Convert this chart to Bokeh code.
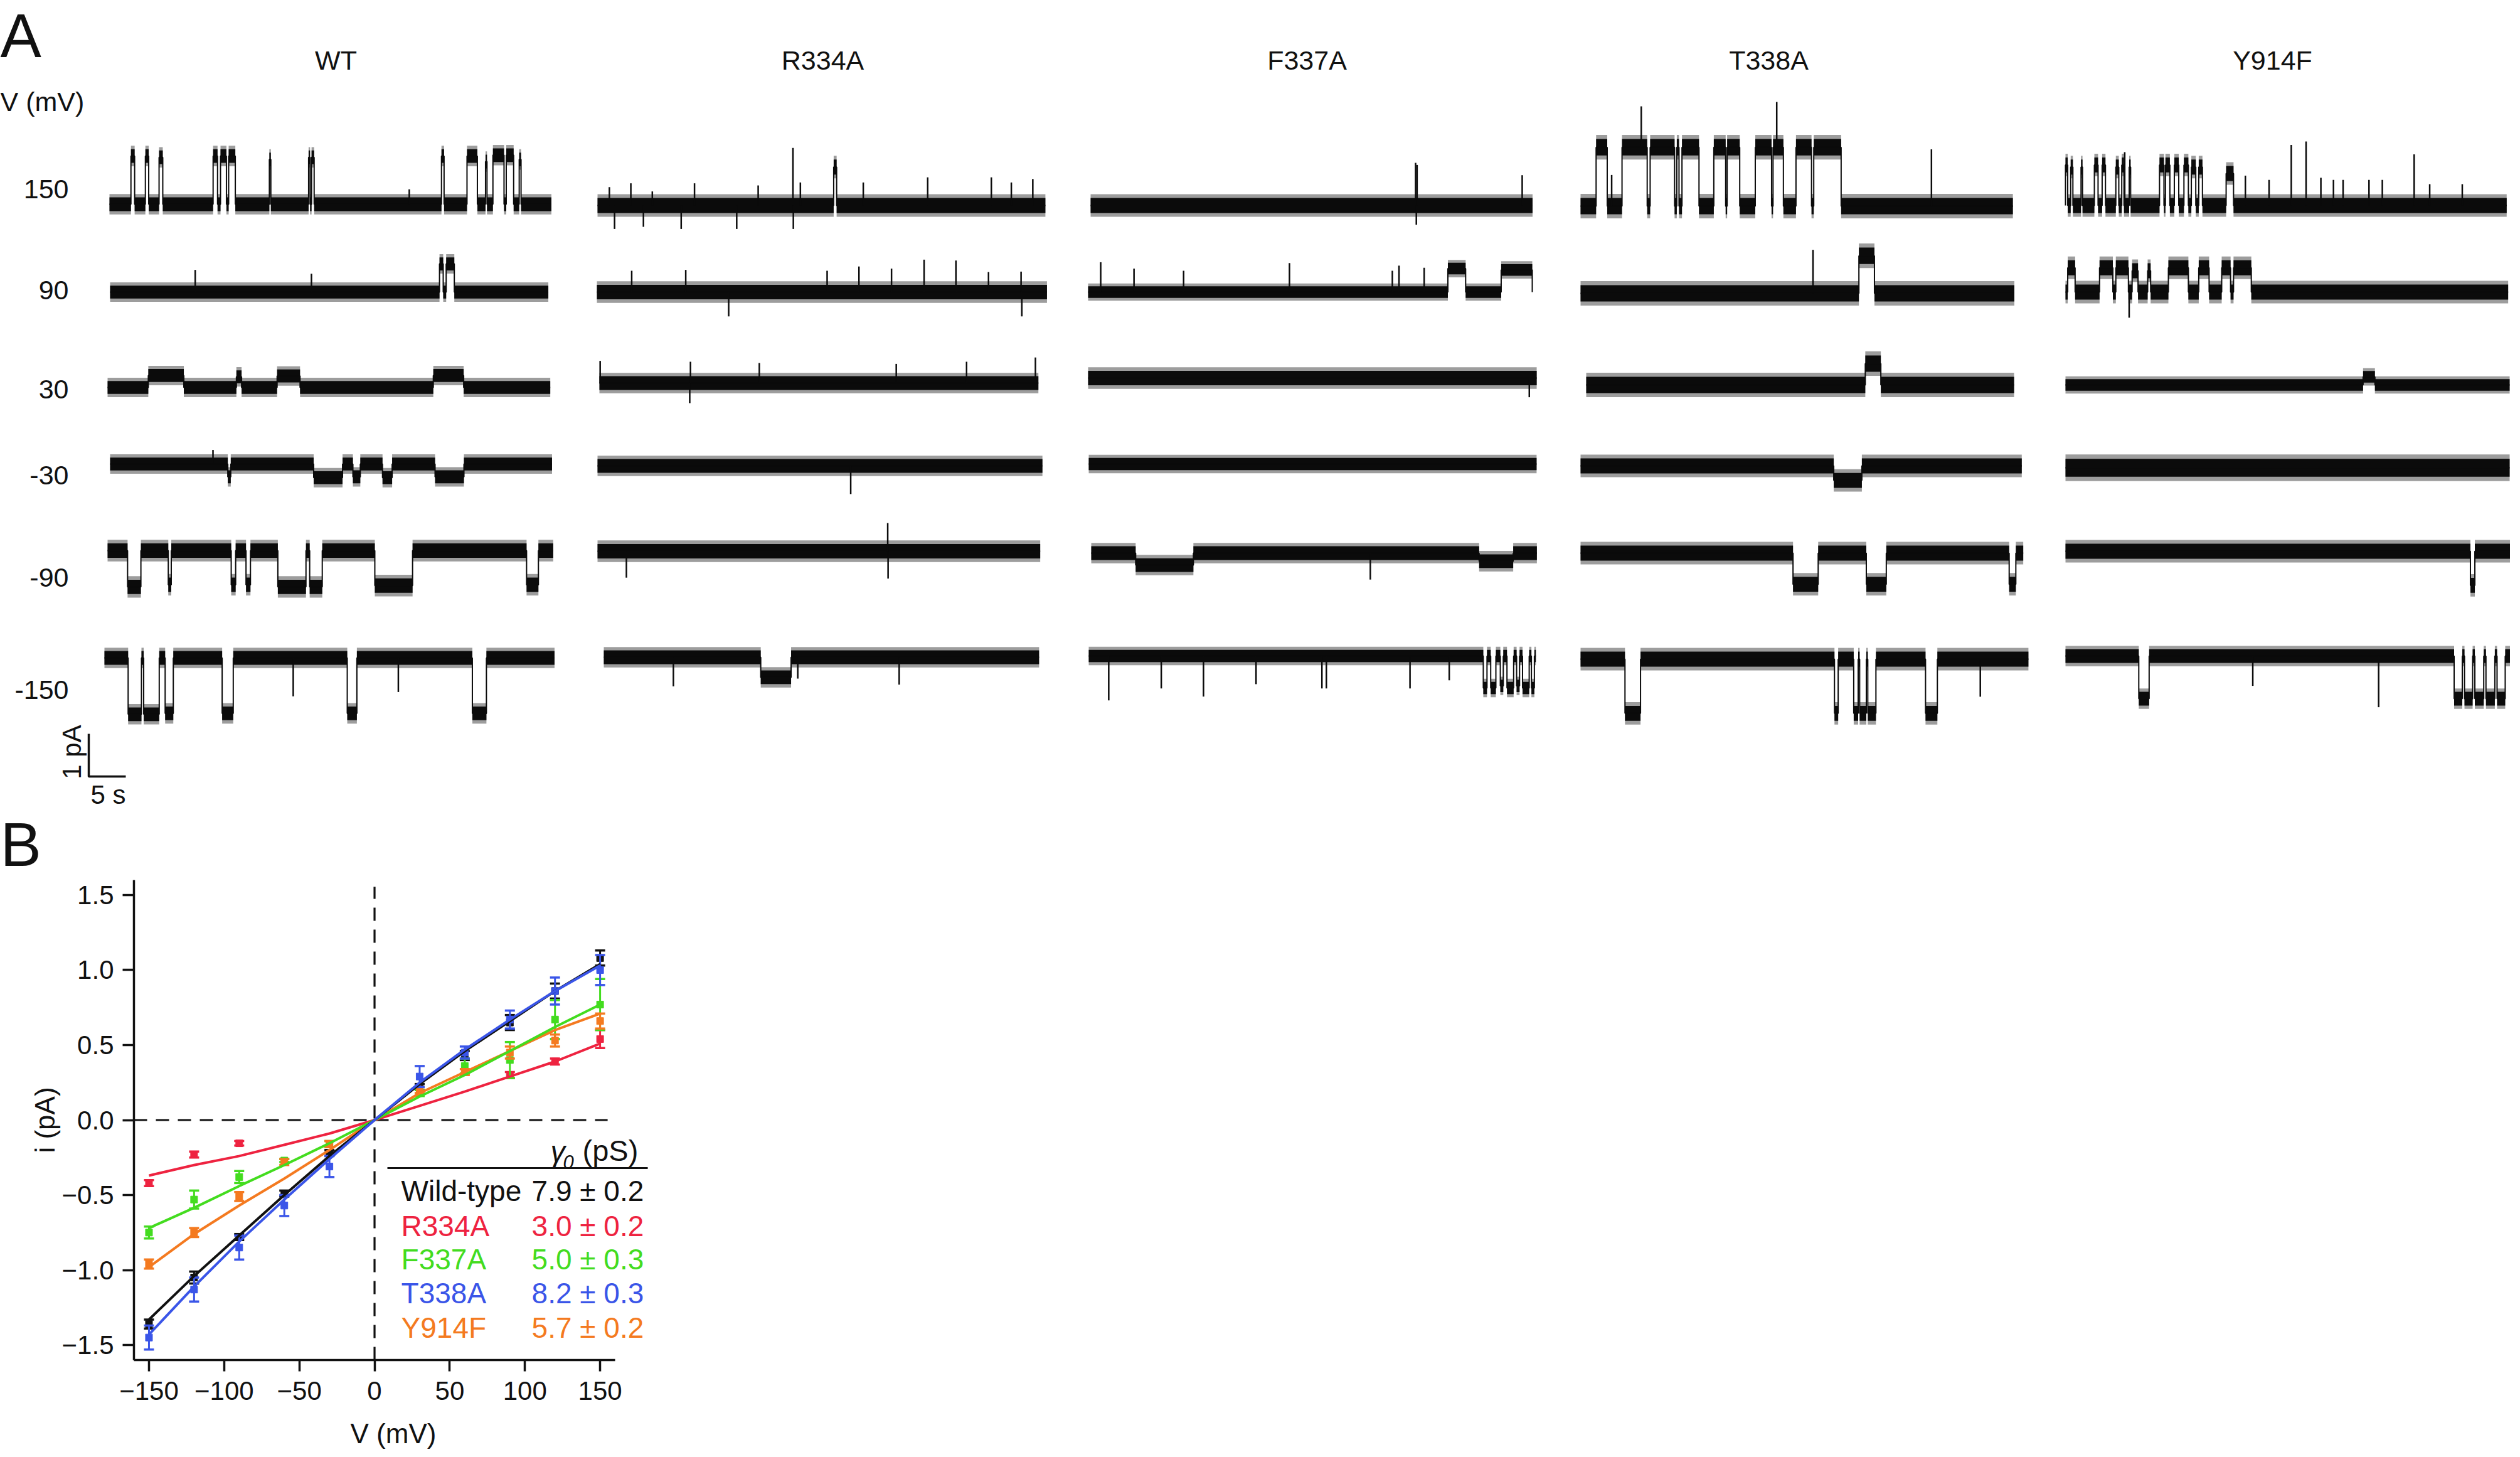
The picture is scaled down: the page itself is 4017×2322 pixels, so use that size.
import math
from bokeh.plotting import figure
from bokeh.models import Range1d, FixedTicker, CustomJSTickFormatter
from bokeh.embed import file_html
from bokeh.resources import INLINE
from bokeh.core.properties import value

FONT = "Liberation Sans"

# ======================= Panel A data =======================
constructs = ["WT", "R334A", "F337A", "T338A", "Y914F"]
voltage_labels = ["150", "90", "30", "-30", "-90", "-150"]

# trace durations (s); rows: 150, 90, 30, -30, -90, -150 mV
wt_duration = [59.7, 59.2, 59.8, 59.7, 60.2, 60.8]
r334a_duration = [60.5, 60.8, 59.3, 60.1, 59.8, 58.8]
f337a_duration = [59.7, 60.0, 60.6, 60.5, 60.2, 60.4]
t338a_duration = [58.4, 58.6, 57.8, 59.6, 59.8, 60.5]
y914f_duration = [59.6, 59.8, 60.0, 60.0, 60.3, 60.8]

# baseline noise half-width (pA)
wt_noise = [0.20, 0.19, 0.19, 0.19, 0.21, 0.20]
r334a_noise = [0.22, 0.21, 0.20, 0.20, 0.21, 0.20]
f337a_noise = [0.22, 0.17, 0.21, 0.18, 0.20, 0.18]
t338a_noise = [0.24, 0.24, 0.24, 0.22, 0.22, 0.22]
y914f_noise = [0.22, 0.22, 0.17, 0.26, 0.22, 0.20]

# channel openings: (start s, end s, current pA)
wt_events = [
    [(2.9, 3.4, 1.13), (4.85, 5.3, 1.13), (6.7, 7.2, 1.10), (14.0, 14.6, 1.13), (15.0, 15.8, 1.13),
     (16.1, 17.0, 1.13), (21.6, 21.8, 1.05), (26.9, 27.1, 1.10), (27.3, 27.65, 1.10), (44.85, 45.2, 1.13),
     (48.3, 49.7, 1.13), (50.8, 51.0, 1.00), (51.8, 53.3, 1.15), (53.6, 54.6, 1.15), (55.35, 55.6, 1.05)],
    [(44.5, 45.0, 0.66), (45.4, 46.5, 0.66)],
    [(5.5, 10.3, 0.28), (17.4, 18.1, 0.25), (22.9, 26.0, 0.27), (44.0, 48.1, 0.28)],
    [(15.9, 16.3, -0.30), (27.5, 31.4, -0.32), (32.8, 33.8, -0.30), (36.8, 38.1, -0.32), (43.9, 47.8, -0.30)],
    [(2.7, 4.5, -0.85), (8.2, 8.6, -0.80), (16.7, 17.3, -0.80), (18.7, 19.3, -0.80), (23.0, 26.8, -0.85),
     (27.3, 29.0, -0.85), (36.1, 41.2, -0.82), (56.6, 58.2, -0.80)],
    [(3.2, 5.0, -1.32), (5.3, 7.4, -1.32), (8.2, 9.3, -1.30), (15.9, 17.4, -1.30), (32.8, 34.1, -1.30),
     (49.7, 51.6, -1.30)],
]
r334a_events = [
    [(31.9, 32.3, 0.90)],
    [],
    [],
    [],
    [],
    [(21.2, 25.3, -0.47)],
]
f337a_events = [
    [],
    [(48.6, 51.0, 0.55), (55.8, 60.0, 0.52)],
    [],
    [],
    [(6.0, 13.8, -0.28), (52.4, 57.0, -0.19)],
    [(53.3, 53.8, -0.75), (54.3, 55.0, -0.75), (55.6, 56.0, -0.70), (56.5, 57.4, -0.75), (57.8, 58.2, -0.70),
     (58.6, 59.5, -0.75), (59.8, 60.2, -0.75)],
]
t338a_events = [
    [(2.1, 3.6, 1.38), (5.6, 9.0, 1.38), (9.4, 12.7, 1.38), (13.0, 13.3, 1.38), (13.7, 16.0, 1.38),
     (18.0, 19.6, 1.38), (19.8, 21.5, 1.38), (23.6, 25.8, 1.38), (26.0, 27.4, 1.38), (29.1, 31.2, 1.38),
     (31.5, 35.2, 1.38)],
    [(37.6, 39.7, 0.88)],
    [(37.7, 39.8, 0.50)],
    [(34.2, 38.0, -0.34)],
    [(28.7, 32.1, -0.73), (38.6, 41.3, -0.73), (57.9, 58.8, -0.73)],
    [(6.0, 8.1, -1.27), (34.3, 34.8, -1.27), (36.9, 37.5, -1.27), (37.7, 38.6, -1.27), (38.8, 39.9, -1.27),
     (46.6, 48.2, -1.27)],
]
y914f_events = [
    [(0.0, 0.3, 0.95), (0.7, 1.0, 0.90), (2.1, 2.3, 0.90), (3.9, 4.4, 0.95), (4.95, 5.4, 0.95), (6.8, 7.2, 0.90),
     (7.6, 7.9, 0.95), (8.6, 8.8, 0.90), (12.7, 13.3, 0.95), (13.5, 14.1, 0.95), (14.7, 15.3, 0.95),
     (16.0, 16.6, 0.95), (17.0, 17.6, 0.90), (18.0, 18.5, 0.90), (21.7, 22.7, 0.75)],
    [(0.3, 1.3, 0.57), (4.6, 6.4, 0.57), (6.8, 8.5, 0.57), (9.0, 9.8, 0.50), (11.1, 11.5, 0.50),
     (13.9, 16.6, 0.57), (18.0, 19.4, 0.57), (21.1, 22.3, 0.57), (22.7, 25.1, 0.57)],
    [(40.2, 41.8, 0.19)],
    [],
    [(54.7, 55.3, -0.80)],
    [(9.9, 11.3, -1.0), (52.5, 53.6, -1.0), (53.9, 55.0, -1.0), (55.3, 56.5, -1.0), (56.8, 58.0, -1.0),
     (58.3, 59.4, -1.0)],
]

# brief spikes: (time s, peak current pA)
wt_spikes = [
    [(40.5, 0.35)],
    [(11.5, 0.52), (27.2, 0.43)],
    [],
    [(13.9, 0.33)],
    [],
    [(25.5, -0.90), (39.7, -0.80)],
]
r334a_spikes = [
    [(26.4, 1.35), (26.45, -0.55), (13.1, 0.52), (44.6, 0.66), (53.2, 0.66), (55.9, 0.54), (58.8, 0.62),
     (35.9, 0.54), (1.6, 0.43), (4.5, 0.52), (7.4, 0.33), (21.7, 0.47), (27.4, 0.54), (2.3, -0.55),
     (6.2, -0.50), (11.3, -0.55), (18.8, -0.55)],
    [(12.0, 0.52), (44.2, 0.76), (48.5, 0.74), (35.4, 0.60), (39.8, 0.55), (31.1, 0.50), (52.9, 0.47),
     (57.3, 0.48), (4.7, 0.50), (17.8, -0.57), (57.4, -0.57)],
    [(0.1, 0.52), (12.3, 0.50), (21.6, 0.47), (40.1, 0.45), (49.6, 0.50), (58.9, 0.60), (12.2, -0.47)],
    [(34.2, -0.66)],
    [(39.2, 0.66), (3.9, -0.62), (39.25, -0.64)],
    [(9.4, -0.68), (39.9, -0.64), (26.2, -0.50)],
]
f337a_spikes = [
    [(43.9, 1.00), (44.1, 0.95), (58.3, 0.71), (44.0, -0.45)],
    [(1.7, 0.70), (6.2, 0.55), (12.9, 0.50), (27.2, 0.68), (41.1, 0.50), (42.0, 0.62), (45.4, 0.57)],
    [(59.6, -0.45)],
    [],
    [(37.7, -0.62)],
    [(2.7, -1.04), (9.8, -0.76), (15.5, -0.95), (22.6, -0.66), (31.5, -0.76), (32.1, -0.76), (43.4, -0.76),
     (48.7, -0.57)],
]
t338a_spikes = [
    [(8.2, 2.34), (26.5, 2.44), (47.4, 1.33), (4.2, 0.73)],
    [(31.4, 1.02)],
    [],
    [],
    [],
    [(54.0, -0.88)],
]
y914f_spikes = [
    [(8.0, 1.25), (30.5, 1.42), (32.5, 1.50), (47.1, 1.20), (24.3, 0.70), (27.5, 0.60), (34.5, 0.65),
     (36.2, 0.60), (37.5, 0.60), (41.0, 0.60), (42.8, 0.60), (49.2, 0.50), (53.6, 0.50)],
    [(8.6, -0.60)],
    [],
    [],
    [],
    [(25.3, -0.70), (42.3, -1.20)],
]

# ======================= Panel B data =======================
iv_voltage = [-150, -120, -90, -60, -30, 30, 60, 90, 120, 150]
NaN = float("nan")
wt_i = [-1.36, -1.05, -0.78, -0.49, -0.22, 0.22, 0.43, 0.65, 0.86, 1.08]
wt_err = [0.03, 0.04, 0.02, 0.02, 0.02, 0.02, 0.03, 0.05, 0.05, 0.05]
r334a_i = [-0.42, -0.23, -0.155, NaN, NaN, NaN, NaN, 0.30, 0.39, 0.54]
r334a_err = [0.02, 0.02, 0.015, NaN, NaN, NaN, NaN, 0.02, 0.02, 0.06]
f337a_i = [-0.75, -0.53, -0.38, -0.27, -0.16, 0.18, 0.36, 0.40, 0.67, 0.77]
f337a_err = [0.04, 0.06, 0.04, 0.01, 0.02, 0.02, 0.05, 0.12, 0.13, 0.17]
t338a_i = [-1.45, -1.13, -0.85, -0.57, -0.31, 0.29, 0.45, 0.67, 0.86, 1.00]
t338a_err = [0.08, 0.08, 0.08, 0.07, 0.07, 0.07, 0.04, 0.06, 0.09, 0.10]
y914f_i = [-0.96, -0.75, -0.51, -0.28, -0.16, 0.20, 0.32, 0.45, 0.53, 0.66]
y914f_err = [0.03, 0.03, 0.03, 0.02, 0.02, 0.02, 0.02, 0.04, 0.04, 0.05]

fit_voltage = [-150, -120, -90, -60, -30, 0, 30, 60, 90, 120, 150]
wt_fit = [-1.33, -1.04, -0.77, -0.50, -0.24, 0.0, 0.24, 0.46, 0.66, 0.86, 1.04]
r334a_fit = [-0.37, -0.30, -0.24, -0.165, -0.09, 0.0, 0.095, 0.19, 0.29, 0.39, 0.51]
f337a_fit = [-0.72, -0.585, -0.44, -0.30, -0.155, 0.0, 0.157, 0.30, 0.46, 0.62, 0.77]
t338a_fit = [-1.43, -1.11, -0.81, -0.53, -0.26, 0.0, 0.25, 0.47, 0.67, 0.86, 1.03]
y914f_fit = [-0.98, -0.76, -0.57, -0.39, -0.20, 0.0, 0.18, 0.32, 0.46, 0.60, 0.71]

legend_names = ["Wild-type", "R334A", "F337A", "T338A", "Y914F"]
legend_values = ["7.9 \u00b1 0.2", "3.0 \u00b1 0.2", "5.0 \u00b1 0.3", "8.2 \u00b1 0.3", "5.7 \u00b1 0.2"]

# ======================= Layout / style =======================
TRACE = "#0b0b0b"
INK = "#111111"
COLORS = {"wt": "#111111", "r334a": "#EE2340", "f337a": "#43DC1F", "t338a": "#3A55E8", "y914f": "#F47A20"}

trace_left_px = [[182, 183, 179, 183, 179, 174],
                 [960, 959, 963, 960, 960, 970],
                 [1746, 1742, 1742, 1743, 1747, 1743],
                 [2527, 2527, 2536, 2527, 2527, 2527],
                 [3300, 3300, 3300, 3300, 3300, 3300]]
trace_base_px = [[333, 473, 625, 747, 885, 1056],
                 [335, 473, 618, 750, 886, 1055],
                 [335, 473, 610, 747, 889, 1053],
                 [336, 475, 621, 750, 889, 1058],
                 [335, 473, 621, 753, 886, 1053]]
title_x_px = [543, 1319, 2091, 2827, 3630]
row_label_y_px = [309, 470, 628, 765, 928, 1107]

PX_PER_S = 11.8
PX_PER_PA = 68.0
WA, HA = 4001, 1402


def ax(px):
    return (px - 8) / PX_PER_S


def ay(py):
    return -(py - 8) / PX_PER_PA


pa = figure(width=WA, height=HA, x_range=Range1d(0, WA / PX_PER_S), y_range=Range1d(-HA / PX_PER_PA, 0),
            min_border=0, x_axis_location=None, y_axis_location=None,
            output_backend="svg", toolbar_location=None)
pa.grid.visible = False
pa.outline_line_color = None

all_durations = [wt_duration, r334a_duration, f337a_duration, t338a_duration, y914f_duration]
all_noise = [wt_noise, r334a_noise, f337a_noise, t338a_noise, y914f_noise]
all_events = [wt_events, r334a_events, f337a_events, t338a_events, y914f_events]
all_spikes = [wt_spikes, r334a_spikes, f337a_spikes, t338a_spikes, y914f_spikes]


def step_trace(events, dur):
    xs, ys = [0.0], [0.0]
    for t0, t1, a in sorted(events):
        xs += [t0, t0, t1, t1]
        ys += [0.0, a, a, 0.0]
    xs.append(dur)
    ys.append(0.0)
    return xs, ys


def level_at(events, t):
    for t0, t1, a in events:
        if t0 <= t <= t1:
            return a
    return 0.0


for ci in range(len(constructs)):
    for ri in range(len(voltage_labels)):
        x0 = ax(trace_left_px[ci][ri])
        yb = ay(trace_base_px[ci][ri])
        ev = all_events[ci][ri]
        xs, ys = step_trace(ev, all_durations[ci][ri])
        X = [x0 + v for v in xs]
        Y = [yb + v for v in ys]
        n = all_noise[ci][ri]
        # fuzzy outer edge of the noise band, then the dense core
        pa.varea(x=X, y1=[v - 1.2 * n for v in Y], y2=[v + 1.2 * n for v in Y], fill_color=TRACE, fill_alpha=0.4)
        pa.varea(x=X, y1=[v - 0.8 * n for v in Y], y2=[v + 0.8 * n for v in Y], fill_color=TRACE)
        pa.line(X, Y, line_width=2, line_color=TRACE)
        sp = all_spikes[ci][ri]
        if sp:
            pa.segment(x0=[x0 + t for t, a in sp], y0=[yb + level_at(ev, t) for t, a in sp],
                       x1=[x0 + t for t, a in sp], y1=[yb + a for t, a in sp],
                       line_width=2.5, line_color=TRACE)

# texts of panel A
pa.text(x=[ax(8)], y=[ay(64)], text=["A"], text_font=value(FONT), text_font_size="98px",
        text_align="left", text_baseline="middle", text_color=INK)
pa.text(x=[ax(px) for px in title_x_px], y=[ay(103)] * 5, text=constructs, text_font=value(FONT),
        text_font_size="43px", text_align="center", text_baseline="middle", text_color=INK)
pa.text(x=[ax(8)], y=[ay(169)], text=["V (mV)"], text_font=value(FONT), text_font_size="43px",
        text_align="left", text_baseline="middle", text_color=INK)
pa.text(x=[ax(117)] * 6, y=[ay(py) for py in row_label_y_px], text=voltage_labels, text_font=value(FONT),
        text_font_size="43px", text_align="right", text_baseline="middle", text_color=INK)

# scale bar: 1 pA, 5 s
sb_x, sb_y = ax(149), ay(1245)
pa.line([sb_x, sb_x, sb_x + 5.0], [sb_y + 1.0, sb_y, sb_y], line_width=3.5, line_color=INK)
pa.text(x=[ax(122)], y=[ay(1206)], text=["1 pA"], angle=math.pi / 2, text_font=value(FONT),
        text_font_size="42px", text_align="center", text_baseline="middle", text_color=INK)
pa.text(x=[ax(180)], y=[ay(1274)], text=["5 s"], text_font=value(FONT), text_font_size="42px",
        text_align="center", text_baseline="middle", text_color=INK)

# panel label B (sits just above panel B's frame, kept inside this canvas)
pa.text(x=[ax(8)], y=[ay(1408)], text=["B"], text_font=value(FONT), text_font_size="98px",
        text_align="left", text_baseline="bottom", text_color=INK)

# ======================= Panel B =======================
PX_PER_MV = 2.397
PX_PER_PA_B = 239.06
X0_PX, Y0_PX = 604.5, 1785.5


def bx(px):
    return (px - X0_PX) / PX_PER_MV


def by(py):
    return (Y0_PX - py) / PX_PER_PA_B


pb = figure(frame_width=827, frame_height=765, x_range=Range1d(-160, 185), y_range=Range1d(-1.6, 1.6),
            min_border_left=213, min_border_right=0, min_border_top=0, min_border_bottom=132,
            output_backend="svg", toolbar_location=None)
pb.grid.visible = False
pb.outline_line_color = None
pb.xaxis.bounds = (-160, 160)
pb.yaxis.bounds = (-1.6, 1.6)
pb.xaxis.ticker = FixedTicker(ticks=[-150, -100, -50, 0, 50, 100, 150])
pb.yaxis.ticker = FixedTicker(ticks=[-1.5, -1.0, -0.5, 0.0, 0.5, 1.0, 1.5])
pb.xaxis.formatter = CustomJSTickFormatter(code="return tick.toFixed(0).replace('-', '\u2212');")
pb.yaxis.formatter = CustomJSTickFormatter(code="return tick.toFixed(1).replace('-', '\u2212');")
pb.xaxis.axis_label = "V (mV)"
pb.yaxis.axis_label = "i (pA)"
for axis in (pb.xaxis, pb.yaxis):
    axis.axis_line_width = 3.5
    axis.axis_line_color = INK
    axis.major_tick_line_width = 3.5
    axis.major_tick_line_color = INK
    axis.major_tick_out = 18
    axis.major_tick_in = 0
    axis.minor_tick_out = 0
    axis.minor_tick_in = 0
    axis.major_label_text_font = FONT
    axis.major_label_text_font_size = "42px"
    axis.major_label_text_color = INK
    axis.axis_label_text_font = FONT
    axis.axis_label_text_font_size = "44px"
    axis.axis_label_text_font_style = "normal"
    axis.axis_label_text_color = INK
pb.xaxis.major_label_standoff = 16
pb.yaxis.major_label_standoff = 14
pb.xaxis.axis_label_standoff = 26
pb.yaxis.axis_label_standoff = 0

# zero reference lines
pb.segment(x0=[-160], y0=[0], x1=[155], y1=[0], line_width=3.2, line_dash="21 14", line_color=INK)
pb.segment(x0=[0], y0=[-1.6], x1=[0], y1=[1.555], line_width=3.2, line_dash="21 14", line_color=INK)

series = [("wt", wt_i, wt_err), ("r334a", r334a_i, r334a_err), ("f337a", f337a_i, f337a_err),
          ("y914f", y914f_i, y914f_err), ("t338a", t338a_i, t338a_err)]
for key, iv, err in series:
    pts = [(v, i, e) for v, i, e in zip(iv_voltage, iv, err) if not math.isnan(i)]
    xs = [p[0] for p in pts]
    ys = [p[1] for p in pts]
    es = [p[2] for p in pts]
    c = COLORS[key]
    pb.segment(x0=xs, y0=[y - e for y, e in zip(ys, es)], x1=xs, y1=[y + e for y, e in zip(ys, es)],
               line_width=3, line_color=c)
    pb.scatter(xs, [y + e for y, e in zip(ys, es)], marker="dash", size=16, line_width=3.5, line_color=c)
    pb.scatter(xs, [y - e for y, e in zip(ys, es)], marker="dash", size=16, line_width=3.5, line_color=c)
    pb.scatter(xs, ys, marker="square", size=11, fill_color=c, line_color=c)

fits = [("r334a", r334a_fit), ("y914f", y914f_fit), ("f337a", f337a_fit), ("wt", wt_fit), ("t338a", t338a_fit)]
for key, f in fits:
    pb.line(fit_voltage, f, line_width=4, line_color=COLORS[key])

# conductance table
row_y_px = [1898, 1954, 2007, 2061, 2116]
row_colors = [COLORS["wt"], COLORS["r334a"], COLORS["f337a"], COLORS["t338a"], COLORS["y914f"]]
pb.segment(x0=[bx(625)], y0=[by(1862)], x1=[bx(1040)], y1=[by(1862)], line_width=3, line_color=INK)
pb.text(x=[bx(885)], y=[by(1835)], text=["\u03b3"], text_font=value(FONT), text_font_size="47px",
        text_font_style="italic", text_align="left", text_baseline="middle", text_color=INK)
pb.text(x=[bx(905)], y=[by(1852)], text=["0"], text_font=value(FONT), text_font_size="31px",
        text_font_style="italic", text_align="left", text_baseline="middle", text_color=INK)
pb.text(x=[bx(936)], y=[by(1834)], text=["(pS)"], text_font=value(FONT), text_font_size="47px",
        text_align="left", text_baseline="middle", text_color=INK)
pb.text(x=[bx(647)] * 5, y=[by(py) for py in row_y_px], text=legend_names, text_color=row_colors,
        text_font=value(FONT), text_font_size="46px", text_align="left", text_baseline="middle")
pb.text(x=[bx(855)] * 5, y=[by(py) for py in row_y_px], text=legend_values, text_color=row_colors,
        text_font=value(FONT), text_font_size="46px", text_align="left", text_baseline="middle")

open("out.html", "w").write(file_html([pa, pb], INLINE))
